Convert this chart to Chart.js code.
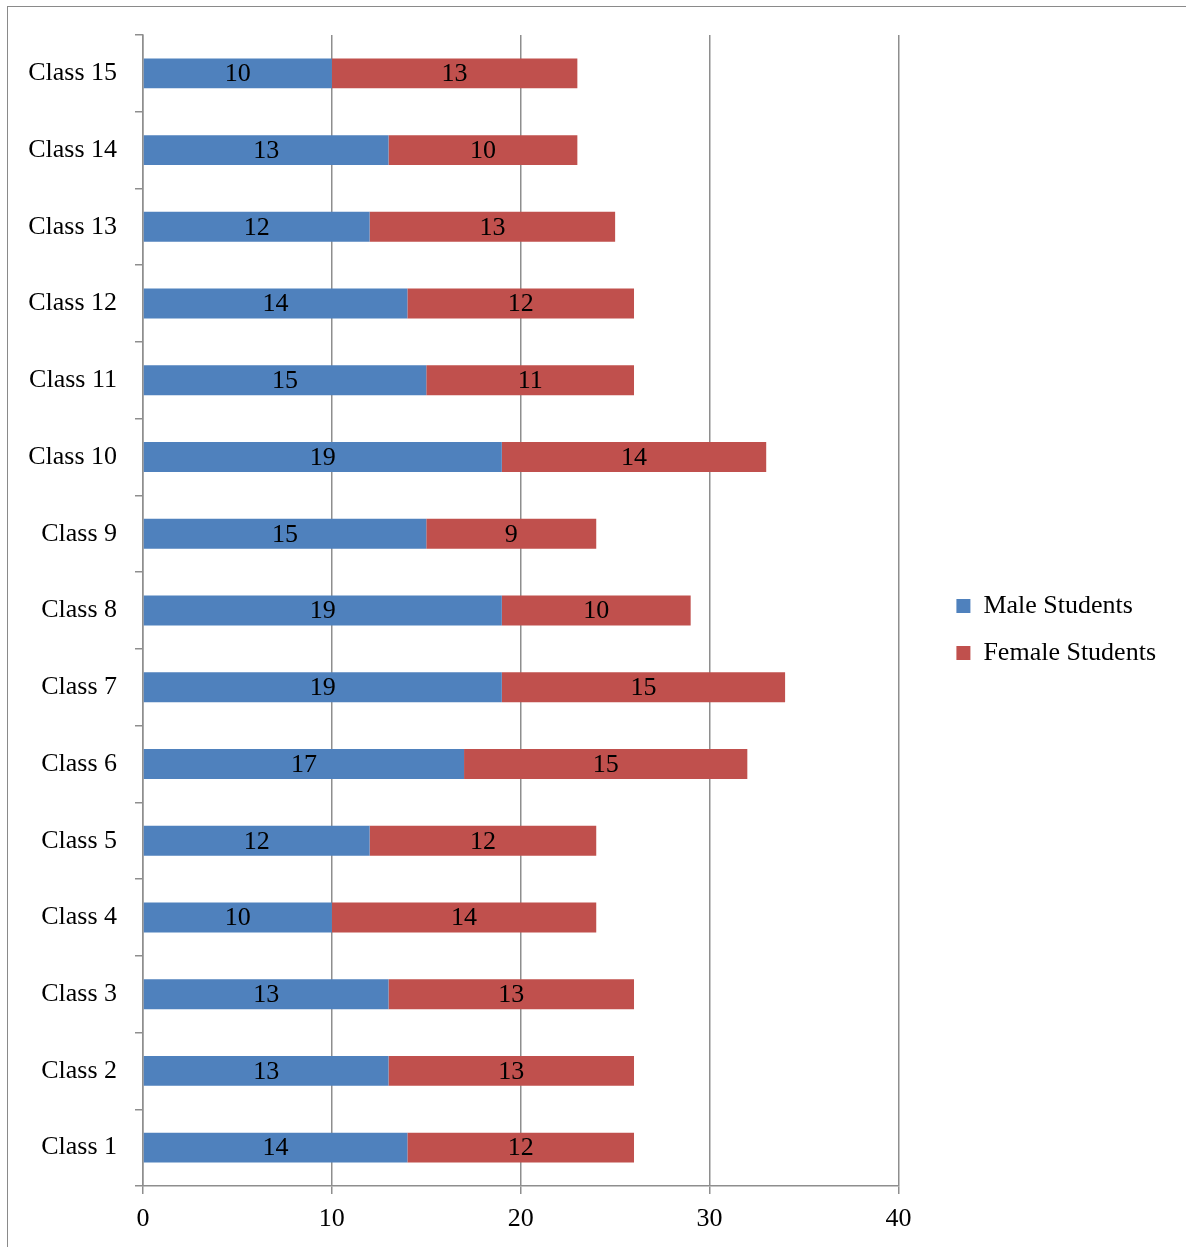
<!DOCTYPE html>
<html>
<head>
<meta charset="utf-8">
<script src="https://cdn.jsdelivr.net/npm/chart.js@4.4.1/dist/chart.umd.min.js"></script>
<style>
    html, body { margin: 0; padding: 0; background: #fff; overflow: hidden; }
    #frame {
        position: absolute; left: 7px; top: 6px;
        width: 1300px; height: 1300px;
        border-top: 1px solid #8a8a8a; border-left: 1px solid #8a8a8a;
    }
    #chart { position: absolute; left: 0; top: 0; }
</style>
</head>
<body>
<div id="frame">
    <canvas id="chart" width="1178" height="1240"></canvas>
</div>
<script>
    // Chart data
    const classes = ['Class 1', 'Class 2', 'Class 3', 'Class 4', 'Class 5', 'Class 6', 'Class 7', 'Class 8',
        'Class 9', 'Class 10', 'Class 11', 'Class 12', 'Class 13', 'Class 14', 'Class 15'];
    const maleStudents = [14, 13, 13, 10, 12, 17, 19, 19, 15, 19, 15, 14, 12, 13, 10];
    const femaleStudents = [12, 13, 13, 14, 12, 15, 15, 10, 9, 14, 11, 12, 13, 10, 13];
    const xTicks = [0, 10, 20, 30, 40];

    const FONT = "'Liberation Serif', 'Times New Roman', serif";
    const GRID = '#8e8e8e';

    Chart.defaults.font.family = FONT;
    Chart.defaults.font.size = 26;
    Chart.defaults.color = '#000';

    // Draw the numbers in the middle of every segment
    const valueLabels = {
        id: 'valueLabels',
        afterDatasetsDraw(chart) {
            const ctx = chart.ctx;
            ctx.save();
            ctx.font = '26px ' + FONT;
            ctx.fillStyle = '#000';
            ctx.textAlign = 'center';
            ctx.textBaseline = 'middle';
            chart.data.datasets.forEach((ds, i) => {
                chart.getDatasetMeta(i).data.forEach((bar, j) => {
                    const p = bar.getCenterPoint();
                    ctx.fillText(ds.data[j], p.x, p.y + 1);
                });
            });
            ctx.restore();
        }
    };

    const defaultLabels = Chart.defaults.plugins.legend.labels.generateLabels;

    new Chart(document.getElementById('chart'), {
        type: 'bar',
        data: {
            labels: classes,
            datasets: [
                { label: 'Male Students', data: maleStudents, backgroundColor: '#4F81BD' },
                { label: 'Female Students', data: femaleStudents, backgroundColor: '#C0504D' }
            ]
        },
        options: {
            indexAxis: 'y',
            responsive: false,
            animation: false,
            barPercentage: 0.39,
            categoryPercentage: 1,
            layout: { padding: { top: 28, bottom: 12, left: 0, right: 20 } },
            plugins: {
                tooltip: { enabled: false },
                legend: {
                    position: 'right',
                    maxWidth: 400,
                    labels: {
                        boxWidth: 14,
                        boxHeight: 14,
                        padding: 10,
                        font: { size: 26, lineHeight: 37 / 26 },
                        // one-line arrays so the row height follows the font lineHeight
                        generateLabels: chart => defaultLabels(chart).map(l => ({ ...l, text: [l.text] }))
                    }
                }
            },
            scales: {
                x: {
                    stacked: true,
                    min: 0,
                    max: 40,
                    afterBuildTicks: s => { s.ticks = xTicks.map(v => ({ value: v })); },
                    afterFit: s => { s.height = 49; },
                    ticks: { padding: 10, font: { size: 26 } },
                    grid: { color: GRID, lineWidth: 1.5, tickLength: 8 },
                    border: { color: GRID, width: 1.5 }
                },
                y: {
                    stacked: true,
                    reverse: true,
                    afterFit: s => { s.width = 135; s.paddingTop = 0; s.paddingBottom = 0; },
                    ticks: { padding: 18, font: { size: 26 } },
                    grid: { drawOnChartArea: false, offset: true, color: GRID, lineWidth: 1.5, tickLength: 8 },
                    border: { color: GRID, width: 1.5 }
                },
                // empty axis that only keeps the gap before the legend
                gap: {
                    type: 'category',
                    position: 'right',
                    grid: { display: false },
                    ticks: { display: false },
                    border: { display: false },
                    afterFit: s => { s.width = 48; s.paddingTop = 0; s.paddingBottom = 0; }
                }
            }
        },
        plugins: [valueLabels]
    });
</script>
</body>
</html>
